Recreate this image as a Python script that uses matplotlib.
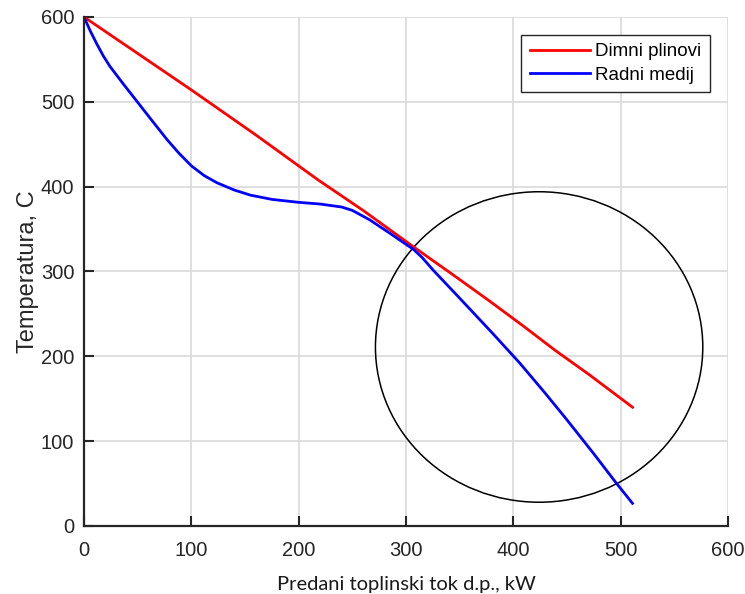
import numpy as np
import matplotlib
matplotlib.use("Agg")
import matplotlib.pyplot as plt
from matplotlib.patches import Ellipse

# podaci ocitani s grafa
q_plin = [0, 50, 100, 160, 218, 260, 307, 345, 378, 410, 439, 470, 511]
t_plin = [600, 557, 514, 461, 408, 372, 329, 295, 265, 235, 207, 179, 140]

q_medij = [0, 6, 12, 18, 24, 36, 49, 62, 77, 88, 100, 112, 124, 140, 155, 175,
           200, 220, 240, 250, 266, 285, 300, 307, 315, 325, 350, 380, 406,
           430, 450, 475, 496, 511]
t_medij = [600, 583, 568, 554, 542, 522, 501, 480, 456, 440, 424.5, 413, 404.5,
           396, 390, 385, 381.5, 379.5, 376, 372, 361, 345, 332, 326, 316.5,
           302, 268.5, 228, 192, 156, 125, 85, 50.4, 26.7]

# oznaka (krug) oko podrucja
krug_centar = (424, 211)
krug_sirina = 305
krug_visina = 366

plt.rcParams['font.family'] = ['Liberation Sans', 'DejaVu Sans']

fig = plt.figure(figsize=(7.45, 5.94), dpi=100)
ax = fig.add_axes([0.1128, 0.1145, 0.8644, 0.8569])

ax.plot(q_plin, t_plin, color='#ff0000', linewidth=2.0, label='Dimni plinovi')
ax.plot(q_medij, t_medij, color='#0000ff', linewidth=2.0, label='Radni medij')
ax.add_patch(Ellipse(krug_centar, krug_sirina, krug_visina, fill=False,
                     edgecolor='black', linewidth=1.1))

ax.set_xlim(0, 600)
ax.set_ylim(0, 600)
ax.set_xticks(np.arange(0, 601, 100))
ax.set_yticks(np.arange(0, 601, 100))
ax.grid(True, color='#dcdcdc', linewidth=1.3)
ax.set_axisbelow(True)

for s in ['top', 'right']:
    ax.spines[s].set_visible(False)
for s in ['left', 'bottom']:
    ax.spines[s].set_linewidth(1.6)
    ax.spines[s].set_color('#262626')

ax.tick_params(direction='in', length=7, width=1.5, colors='#262626',
               labelsize=14.5)
ax.tick_params(axis='x', pad=11)
ax.tick_params(axis='y', pad=7)

ax.set_xlabel('Predani toplinski tok d.p., kW', fontsize=14.5, family='Lato',
              color='#1a1a1a', labelpad=11)
ax.set_ylabel('Temperatura, C', fontsize=17, color='#262626', labelpad=1)

leg = ax.legend(loc='upper right', bbox_to_anchor=(0.972, 0.965), fontsize=13.5,
                fancybox=False, framealpha=1, edgecolor='#262626',
                handlelength=3.2, handletextpad=0.3, borderpad=0.45,
                labelspacing=0.35, borderaxespad=0)
leg.get_frame().set_linewidth(1.0)

fig.savefig('out.png', dpi=100)
